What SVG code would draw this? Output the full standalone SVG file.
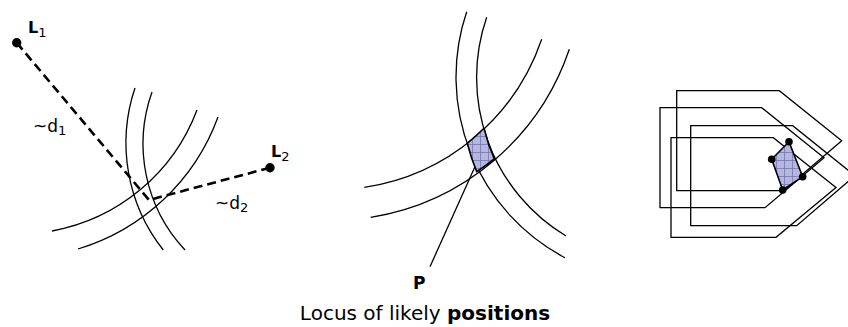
<svg xmlns="http://www.w3.org/2000/svg" width="848" height="327" viewBox="0 0 848 327">
<style>
.arc{fill:none;stroke:#000;stroke-width:1.3}
.dash{fill:none;stroke:#000;stroke-width:2.6;stroke-dasharray:9 5}
.poly{fill:none;stroke:#000;stroke-width:1.3;stroke-linejoin:miter}
.region{fill:url(#hatch);stroke:#000;stroke-width:1.6;stroke-linejoin:round}
.t{font-family:"DejaVu Sans","Liberation Sans",sans-serif;fill:#000}
.b{font-weight:bold}
</style>
<defs>
<pattern id="hatch" width="8" height="8" patternUnits="userSpaceOnUse">
<rect width="8" height="8" fill="#b6b6de"/>
<path d="M0,0.5H8M0.5,0V8" stroke="#6e6eaa" stroke-width="0.7"/>
</pattern>
<marker id="ah" markerWidth="10" markerHeight="8" refX="9" refY="4" orient="auto" markerUnits="userSpaceOnUse">
<path d="M0,0 L9,4 L0,8 z" fill="#000"/>
</marker>
</defs>

<g id="panel-left">
<path class="arc" d="M135,88 A172,172 0 0 0 163.3,250"/>
<path class="arc" d="M152,92 A155,155 0 0 0 185,250"/>
<path class="arc" d="M52,231 A191.5,191.5 0 0 0 197,110"/>
<path class="arc" d="M78,249 A215,215 0 0 0 218,117"/>
</g>
<g id="connectors">
<path class="dash" d="M16.7,42.7 L149,200"/>
<path class="dash" d="M270,167.7 L149,200"/>
<line x1="430" y1="266.7" x2="481.7" y2="151.7" stroke="#000" stroke-width="1.3" marker-end="url(#ah)"/>
</g>
<g id="L1">
<circle cx="16.7" cy="42.7" r="4.7"/>
<text class="t b" x="28" y="33" font-size="16">L<tspan font-size="13" font-weight="normal" dy="4">1</tspan></text>
</g>
<g id="L2">
<circle cx="270" cy="167.7" r="4.7"/>
<text class="t b" x="271" y="157" font-size="16">L<tspan font-size="13" font-weight="normal" dy="3.5">2</tspan></text>
</g>
<g id="d1"><text class="t" x="33" y="132" font-size="17">~d<tspan font-size="13" dy="3">1</tspan></text></g>
<g id="d2"><text class="t" x="215" y="209" font-size="17">~d<tspan font-size="13" dy="3">2</tspan></text></g>

<g id="panel-middle">
<path class="arc" d="M466.7,11.7 A204.5,204.5 0 0 0 565,257.8"/>
<path class="arc" d="M486.7,17.3 A185,185 0 0 0 566,236"/>
<path class="arc" d="M364.3,187.3 A222.4,222.4 0 0 0 541.7,39.3"/>
<path class="arc" d="M370.7,217.3 A251.7,251.7 0 0 0 569.3,49.3"/>
<path class="region" d="M467.3,143.3 A222.4,222.4 0 0 0 484,128.3 A185,185 0 0 0 494.3,159 A251.7,251.7 0 0 1 476.7,171.7 A204.5,204.5 0 0 1 467.3,143.3 Z"/>
</g>
<g id="P"><text class="t b" x="413" y="289" font-size="17">P</text></g>

<g id="panel-right">
<path class="poly" d="M676.7,90.7 H779.3 L841.7,140.7 L783.3,190.7 H676.7 Z"/>
<path class="poly" d="M660,107.7 H761.7 L824,157.7 L765,207.7 H660 Z"/>
<path class="poly" d="M690.7,125.7 H792.7 L855,175.7 L796.7,225.7 H690.7 Z"/>
<path class="poly" d="M671,137.7 H773.3 L836,187.5 L776,237.3 H671 Z"/>
<path class="region" d="M789,141.7 L771.7,159.3 L782.7,190 L802.7,176.7 Z"/>
<circle cx="789" cy="141.7" r="3.8"/>
<circle cx="771.7" cy="159.3" r="3.8"/>
<circle cx="782.7" cy="190" r="3.8"/>
<circle cx="802.7" cy="176.7" r="3.8"/>
</g>

<g id="caption"><text class="t" x="425" y="320" font-size="20" text-anchor="middle">Locus of likely <tspan class="b">positions</tspan></text></g>
</svg>
